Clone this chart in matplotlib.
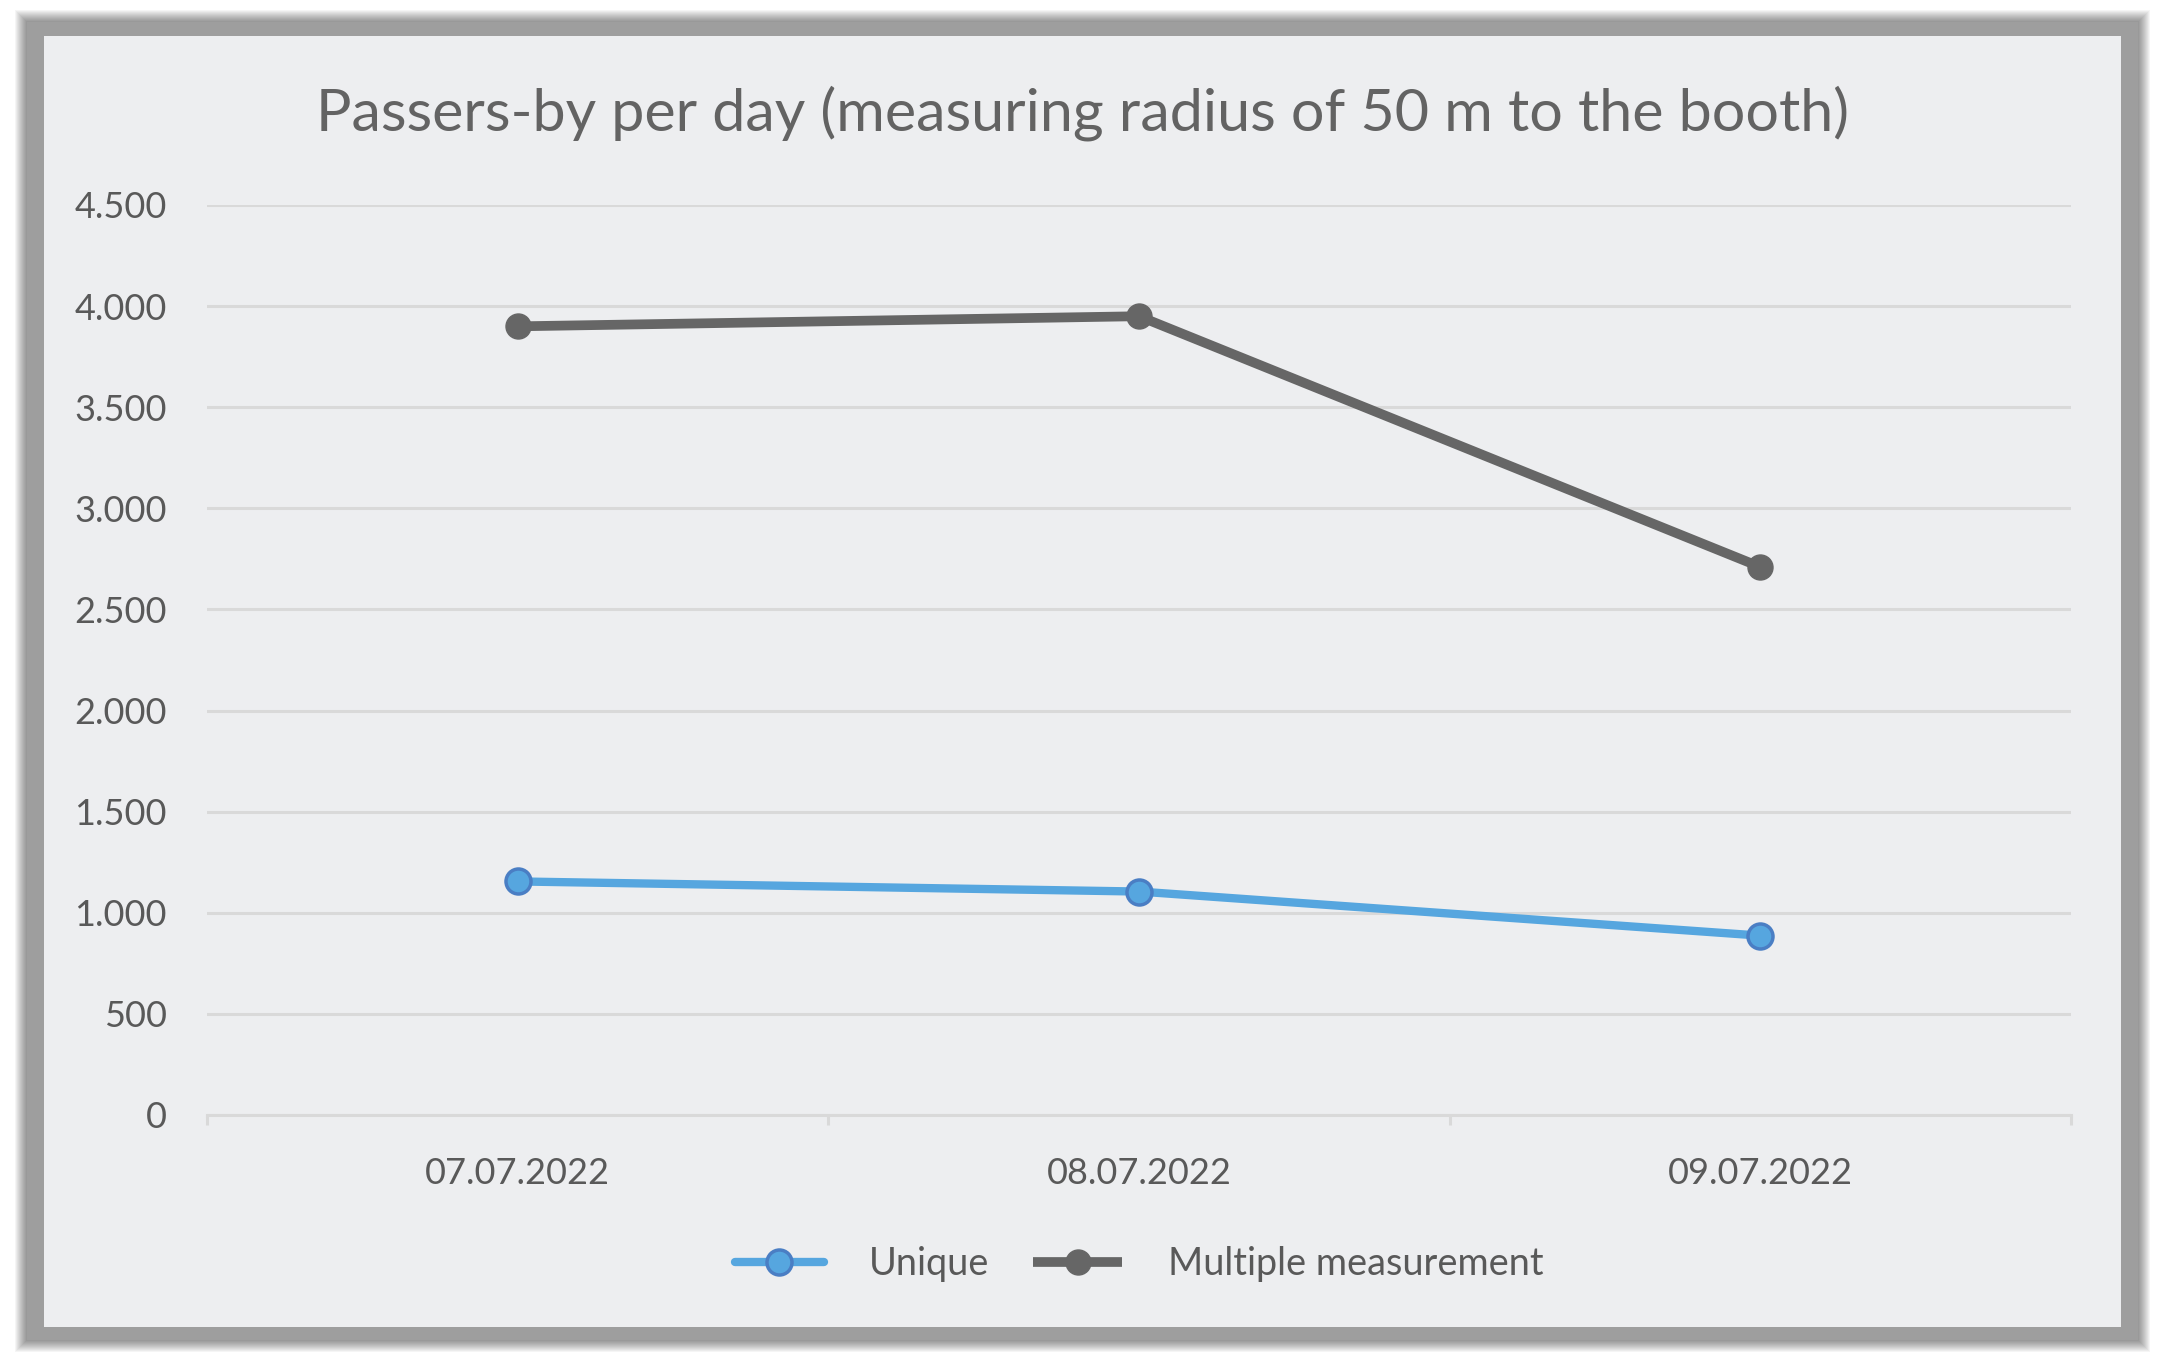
import matplotlib.pyplot as plt
from matplotlib.patches import Rectangle
from matplotlib.ticker import FuncFormatter, FixedLocator

# data
dates = ["07.07.2022", "08.07.2022", "09.07.2022"]
unique = [1155, 1105, 887]
multiple = [3900, 3950, 2710]
y_ticks = list(range(0, 5000, 500))

plt.rcParams['font.family'] = ['Lato', 'DejaVu Sans']
TEXT = '#595959'
GRID = '#D9D9D9'

W, H = 2165, 1363
fig = plt.figure(figsize=(W / 100, H / 100), dpi=100, facecolor='white')

# frame + soft shadow, drawn in pixel coordinates
bg = fig.add_axes([0, 0, 1, 1], zorder=0)
bg.set_xlim(0, W)
bg.set_ylim(H, 0)
bg.axis('off')
x0, y0, x1, y1 = 27, 22, 2138, 1340
for k in range(1, 13):
    bg.add_patch(Rectangle((x0 - k, y0 - k), x1 - x0 + 2 * k, y1 - y0 + 2 * k,
                           facecolor='black', alpha=0.04, lw=0))
bg.add_patch(Rectangle((x0, y0), x1 - x0, y1 - y0, facecolor='#9E9E9E', lw=0))
bg.add_patch(Rectangle((44, 36), 2121 - 44, 1327 - 36, facecolor='#EDEEF0', lw=0))

# plot area
ax = fig.add_axes([207 / W, (H - 1115) / H, (2071 - 207) / W, (1115 - 205) / H], zorder=1)
ax.set_facecolor('none')
xs = range(len(dates))
ax.plot(xs, unique, color='#56A6DF', lw=6, marker='o', ms=18, mfc='#56A6DF',
        mec='#4A7EC4', mew=2.5, solid_capstyle='round', label='Unique', zorder=3)
ax.plot(xs, multiple, color='#666666', lw=7, marker='o', ms=18, mfc='#666666',
        mec='#666666', mew=1, solid_capstyle='butt', label='Multiple measurement', zorder=3)

ax.set_xlim(-0.5, len(dates) - 0.5)
ax.set_ylim(0, 4500)
ax.set_yticks(y_ticks)
ax.yaxis.set_major_formatter(FuncFormatter(lambda v, p: f"{int(v):,}".replace(",", ".")))
ax.set_xticks(list(xs))
ax.set_xticklabels(dates)
ax.xaxis.set_minor_locator(FixedLocator([i - 0.5 for i in range(len(dates) + 1)]))

ax.yaxis.grid(True, color=GRID, lw=2.2)
ax.set_axisbelow(True)
for s in ['top', 'right', 'left']:
    ax.spines[s].set_visible(False)
ax.spines['bottom'].set_color(GRID)
ax.spines['bottom'].set_linewidth(2.2)

ax.tick_params(axis='y', length=0, pad=29, labelsize=26, labelcolor=TEXT)
ax.tick_params(axis='x', which='major', length=0, pad=30, labelsize=26, labelcolor=TEXT)
ax.tick_params(axis='x', which='minor', length=7, width=2.2, color=GRID)

fig.text(0.5, 1 - 113 / H, "Passers-by per day (measuring radius of 50 m to the booth)",
         ha='center', va='center', fontsize=42.7, color='#636363')

leg = fig.legend(loc='center', bbox_to_anchor=(1139 / W, 1 - 1264 / H), ncol=2,
                 frameon=False, fontsize=27.3, handlelength=2.35, handletextpad=1.2,
                 columnspacing=1.15, labelcolor=TEXT)

fig.savefig('out.png', dpi=100, facecolor='white')
